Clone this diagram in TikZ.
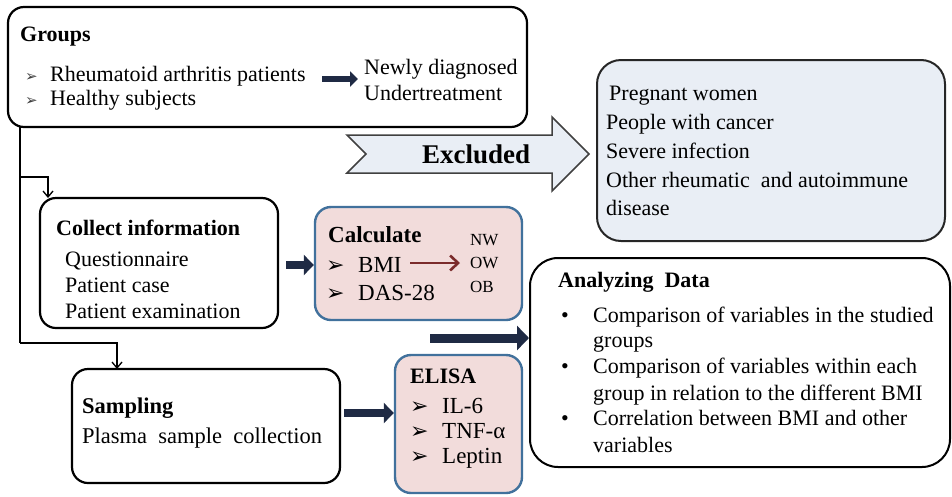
\documentclass[tikz,border=0pt]{standalone}
\usepackage{fontspec}
\setmainfont{Liberation Serif}
\newfontfamily\dv{DejaVu Sans}
\usetikzlibrary{arrows.meta,calc}
\definecolor{navyA}{HTML}{1F2A44}
\definecolor{exfill}{HTML}{E9EEF5}
\definecolor{pinkf}{HTML}{F2DCDB}
\definecolor{blueb}{HTML}{41719C}
\definecolor{brownA}{HTML}{7B2B2B}
\begin{document}
\begin{tikzpicture}[x=1pt,y=-1pt,
  box/.style={draw=black, line width=2.2pt, rounded corners=16pt, inner sep=0pt},
  pbox/.style={draw=blueb, fill=pinkf, line width=2.4pt, rounded corners=16pt, inner sep=0pt},
  txt/.style={anchor=base west, inner sep=0pt, font=\fontsize{22}{25}\selectfont},
  hd/.style={anchor=base west, inner sep=0pt, font=\fontsize{22}{25}\selectfont\bfseries},
  ktxt/.style={anchor=base west, inner sep=0pt, font=\fontsize{23}{25}\selectfont},
  small/.style={anchor=base west, inner sep=0pt, font=\fontsize{17}{20}\selectfont},
  gbul/.style={anchor=base west, inner sep=0pt, text=black!75, font=\dv\fontsize{15}{16}\selectfont},
  kbul/.style={anchor=base west, inner sep=0pt, font=\dv\fontsize{22}{22}\selectfont},
  thinconn/.style={line width=1.3pt, -{Straight Barb[length=6pt,width=10pt]}},
  fat/.style={draw=navyA, -{Triangle[length=10pt,width=20pt]}},
]
\useasboundingbox (0,0) rectangle (952,496);

% ---------- boxes ----------
\node[box, minimum width=519pt, minimum height=120pt] (groups) at (267.5,67) {};
\node[draw=black!85, fill=exfill, line width=2pt, rounded corners=24pt,
      minimum width=348pt, minimum height=181pt, inner sep=0pt] (exbox) at (771,150.5) {};
\node[box, minimum width=238pt, minimum height=130pt] (collect) at (159,263) {};
\node[pbox, minimum width=207pt, minimum height=113pt] (calc) at (418.5,263.5) {};
\node[box, line width=2pt, rounded corners=28pt, minimum width=420pt, minimum height=209pt] (anal) at (740,362.5) {};
\node[box, minimum width=268pt, minimum height=114pt] (samp) at (206,426) {};
\node[pbox, minimum width=127pt, minimum height=138pt] (elisa) at (458.5,424) {};

% ---------- Excluded block arrow ----------
\draw[fill=exfill, draw=black!75, line width=1.5pt, line join=miter]
  (347,135) -- (552,135) -- (552,117) -- (589,154) -- (552,191) -- (552,173)
  -- (347,173) -- (366,154) -- cycle;
\node[anchor=base west, inner sep=0pt, font=\fontsize{27}{28}\selectfont\bfseries] (excl) at (422,163) {Excluded};

% ---------- Groups ----------
\node[hd] (gT) at (20,41) {Groups};
\node[gbul] (gb1) at (25,81) {➢};
\node[gbul] (gb2) at (25,105) {➢};
\node[txt] (g1) at (50,81) {Rheumatoid arthritis patients};
\node[txt] (g2) at (50,105) {Healthy subjects};
\node[txt] (n1) at (364,74) {Newly diagnosed};
\node[txt] (n2) at (364,100) {Undertreatment};
\coordinate (ga1) at (322,79);
\coordinate (ga2) at (358,79);
\draw[fat, line width=6pt, -{Triangle[length=8pt,width=15pt]}] (ga1) -- (ga2);

% ---------- Excluded list ----------
\node[txt] (e1) at (609,100) {Pregnant women};
\node[txt] (e2) at (606,129) {People with cancer};
\node[txt] (e3) at (606,158) {Severe infection};
\node[txt] (e4) at (606,187) {Other rheumatic\ \ and autoimmune};
\node[txt] (e5) at (606,215) {disease};

% ---------- Collect information ----------
\node[hd] (cT) at (56,235) {Collect information};
\node[txt] (c1) at (65,266) {Questionnaire};
\node[txt] (c2) at (65,292) {Patient case};
\node[txt] (c3) at (65,318) {Patient examination};

% ---------- Calculate ----------
\node[hd, font=\fontsize{23}{25}\selectfont\bfseries] (kT) at (328,242) {Calculate};
\node[kbul] (kb1) at (326,272) {➢};
\node[kbul] (kb2) at (326,300) {➢};
\node[ktxt] (k1) at (358,272) {BMI};
\node[ktxt] (k2) at (358,300) {DAS-28};
\node[small] (w1) at (470,245) {NW};
\node[small] (w2) at (470,268) {OW};
\node[small] (w3) at (470,292) {OB};
\coordinate (ba1) at (410,263);
\coordinate (ba2) at (460,263);
\draw[draw=brownA, line width=2.6pt, -{Straight Barb[length=8pt,width=15pt]}] (ba1) -- (ba2);

% ---------- Analyzing Data ----------
\node[hd] (aT) at (558,287) {Analyzing\ \ Data};
\node[txt] (ab1) at (561,322) {•};
\node[txt] (ab2) at (561,373) {•};
\node[txt] (ab3) at (561,425) {•};
\node[txt] (a1) at (593,322) {Comparison of variables in the studied};
\node[txt] (a2) at (593,347) {groups};
\node[txt] (a3) at (593,373) {Comparison of variables within each};
\node[txt] (a4) at (593,400) {group in relation to the different BMI};
\node[txt] (a5) at (593,425) {Correlation between BMI and other};
\node[txt] (a6) at (593,452) {variables};

% ---------- Sampling ----------
\node[hd, font=\fontsize{22.5}{25}\selectfont\bfseries] (sT) at (82,413) {Sampling};
\node[txt, font=\fontsize{22.5}{25}\selectfont] (s1) at (82,443) {Plasma\ \ sample\ \ collection};

% ---------- ELISA ----------
\node[hd, font=\fontsize{22}{25}\selectfont\bfseries] (lT) at (410,383) {ELISA};
\node[kbul] (lb1) at (410,413) {➢};
\node[kbul] (lb2) at (410,438) {➢};
\node[kbul] (lb3) at (410,463) {➢};
\node[ktxt] (l1) at (442,413) {IL-6};
\node[ktxt] (l2) at (442,438) {TNF-α};
\node[ktxt] (l3) at (442,463) {Leptin};

% ---------- connectors ----------
\coordinate (t0) at (20,127);
\coordinate (tb) at (20,343);
\coordinate (tc) at (20,177);
\coordinate (cIn) at (48,198);
\coordinate (sIn) at (117,369);
\draw[line width=1.3pt] (t0) -- (tb);
\draw[thinconn] (tb) -| (sIn);
\draw[thinconn] (tc) -| (cIn);

\draw[fat, line width=8pt] (collect.east) ++(7,2) coordinate (ck1) -- (calc.west |- ck1);
\draw[fat, line width=9pt, -{Triangle[length=12pt,width=24pt]}] (430,338) coordinate (an1) -- (anal.west |- an1);
\draw[fat, line width=8pt] (samp.east) ++(3,-13) coordinate (sk1) -- (elisa.west |- sk1);
\end{tikzpicture}
\end{document}
